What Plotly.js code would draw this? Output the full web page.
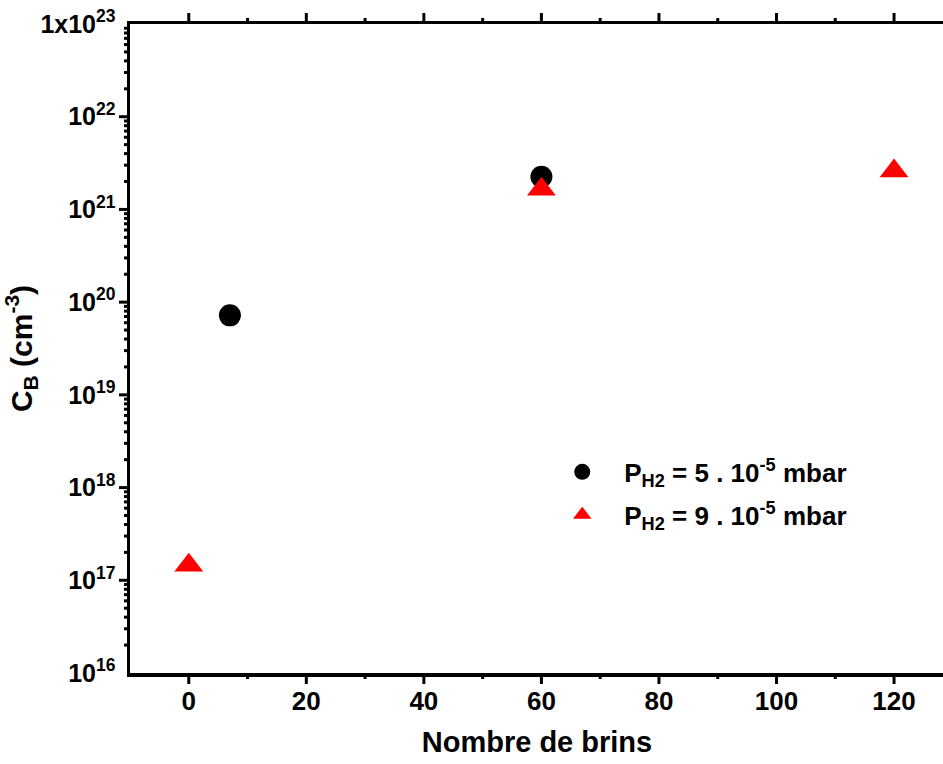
<!DOCTYPE html>
<html>
<head>
<meta charset="utf-8">
<script src="https://cdn.plot.ly/plotly-3.0.1.min.js"></script>
<style>
html,body{margin:0;padding:0;overflow:hidden;background:#fff;}
#chart{width:946px;height:764px;}
</style>
</head>
<body>
<div id="chart"></div>
<script>
// Series 1: P_H2 = 5 . 10^-5 mbar
const brins5 = [7, 60];
const cb5 = [7.2e19, 2.25e21];
// Series 2: P_H2 = 9 . 10^-5 mbar
const brins9 = [0, 60, 120];
const cb9 = [1.45e17, 1.65e21, 2.6e21];

const seriesNames = [
  "P<sub>H2</sub> = 5 . 10<sup>-5</sup> mbar",
  "P<sub>H2</sub> = 9 . 10<sup>-5</sup> mbar"
];

const yTickVals = [1e16, 1e17, 1e18, 1e19, 1e20, 1e21, 1e22, 1e23];
const yTickText = ["10<sup>16</sup>", "10<sup>17</sup>", "10<sup>18</sup>", "10<sup>19</sup>",
                   "10<sup>20</sup>", "10<sup>21</sup>", "10<sup>22</sup>", "1x10<sup>23</sup>"];
const xTickVals = [0, 20, 40, 60, 80, 100, 120];
const xMinorVals = [10, 30, 50, 70, 90, 110];

// minor log tick positions (2..9 per decade)
const yMinorVals = [];
for (let e = 16; e < 23; e++) {
  for (let m = 2; m <= 9; m++) yMinorVals.push(m * Math.pow(10, e));
}

const traces = [
  {
    x: brins5, y: cb5, name: seriesNames[0], type: "scatter", mode: "markers",
    legendgroup: "a",
    marker: {symbol: "circle", size: 22, color: "#000000"}
  },
  {
    x: brins9, y: cb9, name: seriesNames[1], type: "scatter", mode: "markers",
    legendgroup: "b",
    marker: {symbol: "triangle-up", size: 25, color: "#ff0000"}
  }
];

const xRange = [-10, 128.5];
const yRange = [16, 23];
const MAJOR_LEN = 11, MINOR_LEN = 6;
const tickLine = {color: "#000", width: 3};

// inward tick marks on all four sides, placed via the axes' own scales
const shapes = [];
function xTicks(vals, len) {
  vals.forEach(function(v) {
    shapes.push({type: "line", xref: "x", yref: "paper", ysizemode: "pixel", yanchor: 0,
                 x0: v, x1: v, y0: 0, y1: -len, line: tickLine, layer: "above"});
    shapes.push({type: "line", xref: "x", yref: "paper", ysizemode: "pixel", yanchor: 1,
                 x0: v, x1: v, y0: 0, y1: len, line: tickLine, layer: "above"});
  });
}
function yTicks(vals, len) {
  vals.forEach(function(v) {
    shapes.push({type: "line", xref: "paper", yref: "y", xsizemode: "pixel", xanchor: 0,
                 x0: 0, x1: -len, y0: v, y1: v, line: tickLine, layer: "above"});
    shapes.push({type: "line", xref: "paper", yref: "y", xsizemode: "pixel", xanchor: 1,
                 x0: 0, x1: len, y0: v, y1: v, line: tickLine, layer: "above"});
  });
}
xTicks(xTickVals, MAJOR_LEN);
xTicks(xMinorVals, MINOR_LEN);
yTicks(yTickVals.slice(1, -1), MAJOR_LEN);
yTicks(yMinorVals, MINOR_LEN);

const frame = {
  showgrid: false, zeroline: false,
  showline: true, linecolor: "#000", linewidth: 3.5, mirror: true,
  ticks: ""
};

const layout = {
  width: 946, height: 764,
  margin: {l: 130, r: 2, t: 24, b: 91},
  paper_bgcolor: "#fff", plot_bgcolor: "#fff",
  font: {family: "Liberation Sans, Arial, sans-serif", color: "#000", weight: "bold", size: 24},
  showlegend: true,
  legend: {
    x: 0.504, y: 0.346, xanchor: "left", yanchor: "top",
    bgcolor: "rgba(0,0,0,0)", borderwidth: 0,
    font: {size: 26, weight: "bold"},
    itemwidth: 74,
    tracegroupgap: 6
  },
  shapes: shapes,
  xaxis: Object.assign({}, frame, {
    range: xRange,
    tickmode: "array", tickvals: xTickVals,
    tickfont: {size: 26, weight: "bold"},
    ticklabelstandoff: 2,
    title: {text: "Nombre de brins", font: {size: 29, weight: "bold"}, standoff: 18}
  }),
  yaxis: Object.assign({}, frame, {
    type: "log", range: yRange,
    tickmode: "array", tickvals: yTickVals, ticktext: yTickText,
    tickfont: {size: 25, weight: "bold"},
    ticklabelstandoff: 6,
    title: {text: "C<sub>B</sub> (cm<sup>-3</sup>)", font: {size: 30, weight: "bold"}, standoff: 18}
  })
};

Plotly.newPlot("chart", traces, layout, {displayModeBar: false, staticPlot: true});
</script>
</body>
</html>
